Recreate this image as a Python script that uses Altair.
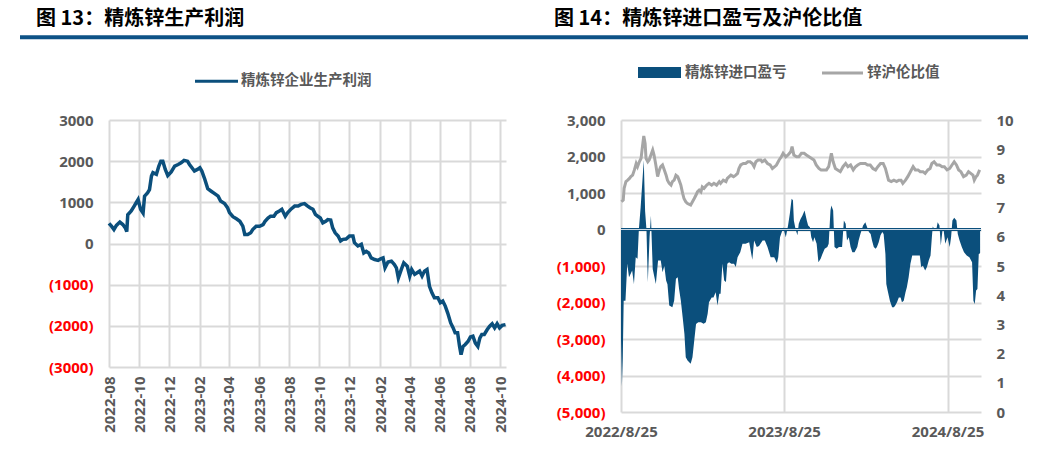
import altair as alt
import pandas as pd

# ---------------- data ----------------
# Figure 13: refined zinc production profit (days since 2022-08-01, yuan/t)
profit_days = [0, 5, 10, 15, 22, 28, 33, 36, 38, 45, 51, 55, 59, 64, 69, 72, 78, 82, 86, 89,
               96, 101, 105, 109, 114, 119, 126, 133, 140, 146, 152, 159, 163, 168, 173, 179,
               184, 188, 194, 200, 207, 214, 221, 226, 234, 240, 244, 251, 258, 265, 271, 275,
               281, 287, 291, 298, 305, 312, 316, 322, 327, 334, 339, 345, 350, 357, 362, 369,
               376, 383, 389, 396, 401, 407, 413, 418, 423, 428, 433, 439, 443, 449, 453, 458,
               464, 469, 474, 480, 487, 494, 497, 504, 511, 516, 521, 526, 531, 538, 545, 550,
               555, 559, 565, 572, 578, 582, 586, 592, 597, 604, 609, 613, 619, 624, 629, 634,
               639, 644, 649, 654, 659, 666, 671, 676, 681, 686, 692, 697, 701, 706, 710, 713,
               717, 721, 727, 732, 737, 742, 747, 751, 755, 760, 766, 771, 776, 781, 786, 791,
               796, 803]
profit_vals = [490, 420, 340, 440, 520, 460, 380, 290, 700, 790, 910, 990, 1070, 830, 740, 1150,
               1230, 1310, 1640, 1720, 1680, 1880, 2000, 2000, 1800, 1650, 1740, 1880, 1920, 1960,
               2020, 2000, 1920, 1840, 1760, 1800, 1840, 1760, 1560, 1330, 1270, 1210, 1150, 1030,
               970, 870, 750, 650, 600, 540, 420, 220, 220, 260, 340, 420, 420, 460, 540, 620,
               660, 660, 750, 790, 830, 660, 750, 840, 910, 910, 950, 970, 920, 870, 830, 710,
               660, 620, 500, 540, 580, 570, 380, 260, 180, 60, 100, 110, 180, 180, 20, -60,
               -20, -230, -190, -230, -350, -390, -410, -370, -350, -590, -450, -430, -510, -590,
               -840, -630, -470, -550, -790, -630, -750, -710, -670, -790, -670, -630, -1040,
               -1200, -1320, -1320, -1440, -1400, -1520, -1690, -1930, -2050, -2170, -2170, -2500,
               -2700, -2500, -2460, -2380, -2270, -2250, -2420, -2500, -2300, -2210, -2210, -2090,
               -2010, -1950, -2050, -1950, -2050, -1990, -1970]

# Figure 14: import profit/loss (days since 2022-08-25, yuan/t)
pl_days = [0, 2, 4, 6, 10, 14, 18, 25, 29, 33, 37, 40, 44, 48, 51, 54, 57, 60, 64, 67, 71, 78,
           83, 89, 93, 97, 101, 104, 108, 115, 119, 123, 127, 130, 134, 138, 142, 145, 149, 156,
           160, 164, 168, 173, 179, 185, 190, 194, 197, 203, 207, 212, 216, 220, 223, 227, 231,
           235, 238, 242, 247, 253, 257, 261, 267, 272, 279, 287, 294, 298, 304, 309, 317, 322,
           328, 335, 343, 349, 352, 356, 360, 363, 369, 374, 378, 382, 385, 387, 391, 395, 398,
           402, 406, 411, 416, 419, 423, 426, 430, 433, 438, 442, 447, 451, 456, 462, 465, 469,
           471, 475, 478, 483, 488, 495, 499, 503, 506, 510, 514, 518, 523, 529, 532, 536, 542,
           547, 551, 555, 559, 562, 566, 570, 573, 577, 581, 585, 588, 592, 594, 597, 602, 607,
           611, 614, 618, 622, 626, 629, 633, 637, 640, 644, 648, 652, 655, 663, 669, 672, 676,
           681, 685, 689, 693, 696, 698, 701, 706, 709, 713, 716, 720, 722, 726, 731, 736, 739,
           742, 746, 751, 754, 758, 763, 768, 774, 780, 786, 789, 792, 795, 798, 801, 804]
pl_vals = [-3000, -4300, -3500, -1950, -1950, -940, -1310, -1120, -1490, -760, -800, 0, 610,
           1340, 1900, 500, 0, -1445, -200, 380, -1080, -1490, -850, -850, -1170, -1000, -1400,
           -1500, -2080, -2130, -1950, -1350, -1310, -1630, -1950, -2400, -2860, -3500, -3590,
           -3680, -3500, -3040, -2590, -2540, -2540, -2580, -2540, -2310, -1990, -1860, -1860,
           -1720, -2080, -1760, -1760, -940, -1400, -1440, -940, -900, -940, -940, -1030, -760,
           -620, -390, -390, -350, -830, -300, -480, -450, -300, -300, -480, -760, -760, -920,
           -760, -210, -70, 60, -210, 110, 430, 840, 800, 250, 0, -160, 160, 290, 380, 520, 250,
           110, 60, -210, -350, -210, -390, -900, -800, -670, -530, -480, -390, 520, 660, 520,
           -480, -530, -480, -480, 250, 160, -300, -210, -480, -620, -620, -480, -300, -120, 110,
           200, 60, -70, -120, -300, -480, -530, -480, -350, -160, -70, -120, -670, -1490, -1670,
           -1950, -2130, -2130, -2080, -1990, -1860, -1860, -1990, -1950, -1720, -1580, -1310,
           -940, -710, -710, -710, -710, -1030, -990, -1120, -1030, -850, -710, -210, 80, 20, 0,
           200, 110, -440, 0, 20, -390, -210, -480, -210, 250, 320, 250, -120, -300, -480, -620,
           -710, -760, -900, -1950, -2040, -1670, -1630, -670, -650]

# Figure 14: SHFE/LME zinc ratio (days since 2022-08-25)
ratio_days = [1, 5, 7, 11, 15, 19, 22, 26, 30, 34, 37, 41, 45, 48, 51, 54, 56, 60, 63, 67, 71, 74,
              78, 82, 86, 89, 93, 97, 101, 104, 108, 112, 115, 119, 123, 127, 130, 134, 138, 141,
              145, 149, 156, 160, 164, 168, 171, 175, 179, 182, 186, 192, 197, 203, 208, 214, 220,
              223, 229, 235, 238, 246, 252, 257, 261, 264, 268, 274, 279, 284, 289, 294, 298, 302,
              307, 313, 316, 322, 328, 334, 339, 344, 348, 354, 359, 363, 369, 374, 380, 383, 387,
              393, 398, 404, 410, 415, 421, 426, 432, 437, 443, 448, 454, 460, 465, 471, 475, 480,
              485, 491, 497, 503, 508, 514, 520, 525, 530, 536, 542, 547, 552, 558, 564, 570, 575,
              581, 587, 592, 596, 599, 605, 611, 617, 622, 627, 631, 637, 642, 648, 654, 659, 665,
              670, 676, 681, 687, 692, 696, 701, 707, 713, 719, 724, 730, 736, 741, 746, 751, 756,
              761, 767, 773, 778, 783, 788, 791, 795, 798, 803]
ratio_vals = [7.2, 7.26, 7.66, 7.89, 7.94, 8.0, 8.06, 8.11, 8.29, 8.51, 8.4, 8.57, 8.69, 9.09,
              9.45, 9.2, 8.69, 8.57, 8.63, 8.8, 8.97, 8.8, 8.46, 8.06, 8.29, 8.4, 8.46, 8.29, 8.11,
              7.94, 7.83, 7.77, 7.89, 7.94, 8.11, 8.06, 7.94, 7.77, 7.49, 7.31, 7.2, 7.14, 7.09,
              7.2, 7.31, 7.43, 7.54, 7.6, 7.54, 7.71, 7.66, 7.77, 7.83, 7.77, 7.83, 7.77, 7.89,
              7.83, 7.94, 7.89, 8.0, 8.11, 8.06, 8.11, 8.17, 8.34, 8.46, 8.51, 8.51, 8.57, 8.57,
              8.51, 8.4, 8.57, 8.63, 8.63, 8.57, 8.63, 8.51, 8.46, 8.34, 8.4, 8.46, 8.63, 8.74,
              8.86, 8.74, 8.8, 8.91, 9.09, 8.8, 8.74, 8.74, 8.86, 8.86, 8.8, 8.74, 8.69, 8.63,
              8.46, 8.34, 8.29, 8.29, 8.29, 8.4, 8.86, 8.57, 8.34, 8.29, 8.23, 8.4, 8.51, 8.4,
              8.46, 8.29, 8.4, 8.46, 8.51, 8.51, 8.51, 8.46, 8.46, 8.34, 8.29, 8.4, 8.51, 8.51,
              8.34, 8.11, 7.94, 7.89, 7.94, 7.89, 7.94, 7.94, 7.83, 7.94, 8.06, 8.23, 8.4, 8.29,
              8.29, 8.23, 8.23, 8.17, 8.29, 8.34, 8.51, 8.57, 8.46, 8.46, 8.4, 8.4, 8.29, 8.34,
              8.46, 8.57, 8.46, 8.29, 8.23, 8.06, 8.11, 8.23, 8.17, 8.11, 7.94, 8.06, 8.11, 8.29]

left_ticks = [(2022, 8), (2022, 10), (2022, 12), (2023, 2), (2023, 4), (2023, 6), (2023, 8),
              (2023, 10), (2023, 12), (2024, 2), (2024, 4), (2024, 6), (2024, 8), (2024, 10)]
right_ticks = [(2022, 8, 25), (2023, 8, 25), (2024, 8, 25)]
left_yticks = [-3000, -2000, -1000, 0, 1000, 2000, 3000]
right_yticks = [-5000, -4000, -3000, -2000, -1000, 0, 1000, 2000, 3000]
ratio_ticks = list(range(0, 11))

title_left = "图 13：精炼锌生产利润"
title_right = "图 14：精炼锌进口盈亏及沪伦比值"
legend_left = "精炼锌企业生产利润"
legend_pl = "精炼锌进口盈亏"
legend_ratio = "锌沪伦比值"

# ---------------- tables ----------------
df_left = pd.DataFrame({
    "date": pd.Timestamp("2022-08-01") + pd.to_timedelta(profit_days, unit="D"),
    "v": profit_vals})
df_pl = pd.DataFrame({
    "date": pd.Timestamp("2022-08-25") + pd.to_timedelta(pl_days, unit="D"),
    "v": pl_vals})
df_ratio = pd.DataFrame({
    "date": pd.Timestamp("2022-08-25") + pd.to_timedelta(ratio_days, unit="D"),
    "r": ratio_vals})

# ---------------- style ----------------
BLUE = "#0b4f7c"
BAR = "#0d5286"
GRAYLINE = "#a6a6a6"
TXT = "#595959"
GRID = "#d9d9d9"
NUMFONT = "Open Sans"
CJK = "Noto Sans CJK SC"
LBL = 15

neg_color = {"condition": {"test": "datum.value < 0", "value": "#ff0000"}, "value": TXT}


def one(text):
    return pd.DataFrame({"t": [text]})


def text_mark(text, x, y, size, color, weight="bold"):
    return alt.Chart(one(text)).mark_text(
        align="left", baseline="middle", font=CJK, fontSize=size,
        fontWeight=weight, color=color
    ).encode(text="t:N", x=alt.value(x), y=alt.value(y))


# ---------------- left panel ----------------
LW, LH = 397, 247
left_line = alt.Chart(df_left).mark_line(color=BLUE, strokeWidth=3.5).encode(
    x=alt.X("date:T",
            scale=alt.Scale(domain=[alt.DateTime(year=2022, month=8, date=1),
                                    alt.DateTime(year=2024, month=10, date=13)]),
            axis=alt.Axis(values=[alt.DateTime(year=y, month=m, date=1) for y, m in left_ticks],
                          format="%Y-%m", labelAngle=270, title=None, grid=True,
                          gridColor=GRID, gridWidth=2, domain=False, ticks=False,
                          labelPadding=9, labelFont=NUMFONT, labelFontSize=LBL,
                          labelFontWeight="bold", labelColor=TXT, labelFlush=False,
                          labelOverlap=False)),
    y=alt.Y("v:Q",
            scale=alt.Scale(domain=[-3000, 3000], nice=False),
            axis=alt.Axis(values=left_yticks, title=None, grid=True, gridColor=GRID,
                          gridWidth=2, domain=False, ticks=False, labelPadding=16,
                          labelFont=NUMFONT, labelFontSize=LBL, labelFontWeight="bold",
                          labelColor=neg_color,
                          labelExpr="datum.value < 0 ? '(' + format(-datum.value, 'd') + ')' : format(datum.value, 'd') + '\u00a0'")),
)

left = alt.layer(
    left_line,
    text_mark(title_left, -73, -100.7, 20, "#000000"),
    # header bar spanning both panels
    alt.Chart(one("")).mark_rule(color=BAR, strokeWidth=4).encode(
        x=alt.value(-89), x2=alt.value(919), y=alt.value(-82.7)),
    alt.Chart(one("")).mark_rule(color=BLUE, strokeWidth=3).encode(
        x=alt.value(86), x2=alt.value(129), y=alt.value(-38.7)),
    text_mark(legend_left, 132, -38.7, 14.5, TXT),
).properties(width=LW, height=LH)

# ---------------- right panel ----------------
RW, RH = 360, 292
xr = alt.X("date:T",
           scale=alt.Scale(domain=[alt.DateTime(year=2022, month=8, date=25),
                                   alt.DateTime(year=2024, month=11, date=8)]),
           axis=alt.Axis(values=[alt.DateTime(year=y, month=m, date=d) for y, m, d in right_ticks],
                         format="%Y/%-m/%d", labelAngle=0, title=None, grid=True,
                         gridColor=GRID, gridWidth=2, domain=False, ticks=False,
                         labelPadding=12, labelFont=NUMFONT, labelFontSize=LBL,
                         labelFontWeight="bold", labelColor=TXT, labelFlush=False,
                         labelOverlap=False))

ypl_scale = alt.Scale(domain=[-5000, 3000], nice=False)
ypl_axis = alt.Axis(values=right_yticks, title=None, grid=True, gridColor=GRID,
                    gridWidth=2, domain=False, ticks=False, labelPadding=16,
                    labelFont=NUMFONT, labelFontSize=LBL, labelFontWeight="bold",
                    labelColor=neg_color,
                    labelExpr="datum.value < 0 ? '(' + format(-datum.value, ',') + ')' : format(datum.value, ',') + '\u00a0'")

area = alt.Chart(df_pl).mark_area(color=BLUE, opacity=1, interpolate="linear").encode(
    x=xr,
    y=alt.Y("v:Q", scale=ypl_scale, axis=ypl_axis),
    y2=alt.datum(0),
)
zero_dark = alt.Chart(one("")).mark_rule(color=BLUE, strokeWidth=3).encode(
    y=alt.Y("v:Q", scale=ypl_scale, axis=ypl_axis), x=alt.value(0), x2=alt.value(RW)
).transform_calculate(v="0")
zero_light = alt.Chart(one("")).mark_rule(color="#c9d8e6", strokeWidth=1).encode(
    y=alt.Y("v:Q", scale=ypl_scale, axis=ypl_axis), x=alt.value(0), x2=alt.value(RW)
).transform_calculate(v="0")

pl_layer = alt.layer(area, zero_dark, zero_light)

ratio_line = alt.Chart(df_ratio).mark_line(color=GRAYLINE, strokeWidth=3).encode(
    x=alt.X("date:T"),
    y=alt.Y("r:Q", scale=alt.Scale(domain=[0, 10], nice=False),
            axis=alt.Axis(values=ratio_ticks, orient="right", title=None, grid=False,
                          domain=False, ticks=False, labelPadding=15, labelFont=NUMFONT,
                          labelFontSize=LBL, labelFontWeight="bold", labelColor=TXT)),
)

right_deco = alt.layer(
    text_mark(title_right, -67, -100.7, 20, "#000000"),
    alt.Chart(one("")).mark_rect(color=BLUE).encode(
        x=alt.value(17), x2=alt.value(60), y=alt.value(-53), y2=alt.value(-42)),
    text_mark(legend_pl, 64, -47, 14.5, TXT),
    alt.Chart(one("")).mark_rule(color=GRAYLINE, strokeWidth=3).encode(
        x=alt.value(201), x2=alt.value(242), y=alt.value(-47)),
    text_mark(legend_ratio, 246, -47, 14.5, TXT),
)

right = alt.layer(ratio_line, pl_layer, right_deco).resolve_scale(
    y="independent").properties(width=RW, height=RH)

chart = alt.hconcat(left, right, spacing=115, bounds="flush").configure_view(
    stroke=None).properties(padding={"left": 18, "top": 9, "right": 0, "bottom": 0})

chart.save("out.html", embed_options={"renderer": "svg", "actions": False})
